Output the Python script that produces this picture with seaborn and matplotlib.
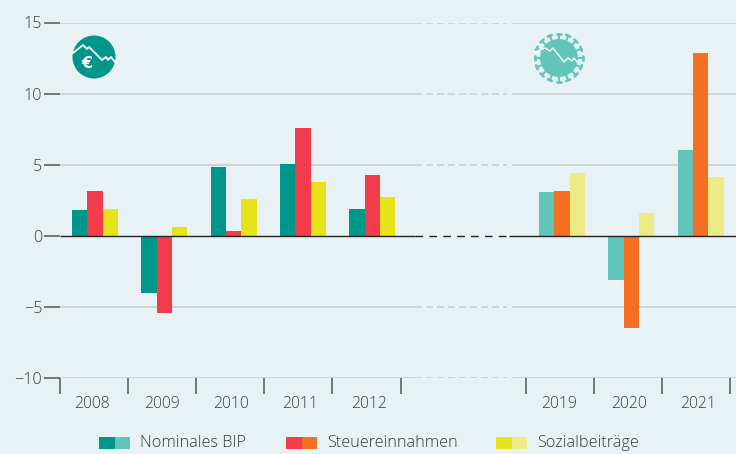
import numpy as np
import pandas as pd
import seaborn as sns
import matplotlib.pyplot as plt
from matplotlib.patches import Circle, Rectangle
from matplotlib.lines import Line2D
from matplotlib.transforms import Affine2D

BG = '#e8f1f3'
GRID = '#c6cecf'
TEXT = '#3c3c3c'
W, H = 736, 454

years_a = ['2008', '2009', '2010', '2011', '2012']
bip_a = [1.8, -4.0, 4.85, 5.05, 1.9]
steuer_a = [3.15, -5.4, 0.35, 7.6, 4.3]
sozial_a = [1.9, 0.65, 2.6, 3.8, 2.7]

years_b = ['2019', '2020', '2021']
bip_b = [3.05, -3.1, 6.0]
steuer_b = [3.15, -6.5, 12.85]
sozial_b = [4.4, 1.6, 4.1]

series = ['Nominales BIP', 'Steuereinnahmen', 'Sozialbeiträge']
colors_a = ['#00968a', '#f33c4b', '#e6e419']
colors_b = ['#62c5b9', '#f56f23', '#ebec85']
pos_a = [0, 1, 2, 3, 4]
pos_b = [6.74, 7.74, 8.74]


def long_table(pos, bip, steuer, sozial):
    frames = []
    for name, vals in zip(series, [bip, steuer, sozial]):
        frames.append(pd.DataFrame({'pos': pos, 'wert': vals, 'reihe': name}))
    return pd.concat(frames)


def px_to_x(px):
    # one group is 69.3 px wide, first group centred on 95 px
    return (px - 95) / 69.3


sns.set_theme(style='white')
plt.rcParams['font.family'] = ['Open Sans', 'DejaVu Sans']
plt.rcParams['font.weight'] = 'light'

fig = plt.figure(figsize=(W / 100, H / 100), dpi=100, facecolor=BG)
ax = fig.add_axes([59.5 / W, 1 - 378 / H, (W - 59.5) / W, (378 - 22.5) / H], facecolor='none')

# pixel coordinates for the icons and the legend
pix = Affine2D().scale(1, -1).translate(0, H)

sns.barplot(data=long_table(pos_a, bip_a, steuer_a, sozial_a), x='pos', y='wert', hue='reihe',
            palette=colors_a, native_scale=True, width=0.664, gap=0, saturation=1, legend=False, ax=ax,
            zorder=3, linewidth=0)
sns.barplot(data=long_table(pos_b, bip_b, steuer_b, sozial_b), x='pos', y='wert', hue='reihe',
            palette=colors_b, native_scale=True, width=0.664, gap=0, saturation=1, legend=False, ax=ax,
            zorder=3, linewidth=0)

x_left, x_right = px_to_x(59.5), px_to_x(736)
ax.set_xlim(x_left, x_right)
ax.set_ylim(-10, 15)
for s in ax.spines.values():
    s.set_visible(False)

# grid lines, dashed across the gap between the two periods
for v in [-10, -5, 5, 10, 15]:
    ax.hlines(v, x_left, px_to_x(415), color=GRID, lw=1.1, zorder=1)
    ax.hlines(v, px_to_x(415), px_to_x(507), color=GRID, lw=1.1, linestyles=(0, (4.6, 2.6)), zorder=1)
    ax.hlines(v, px_to_x(512), x_right, color=GRID, lw=1.1, zorder=1)
ax.hlines(0, x_left, px_to_x(415), color='#222222', lw=1, zorder=4)
ax.hlines(0, px_to_x(415), px_to_x(509), color='#222222', lw=1, linestyles=(0, (5.5, 4.5)), zorder=4)
ax.hlines(0, px_to_x(509), x_right, color='#222222', lw=1, zorder=4)

ax.set_xlabel('')
ax.set_ylabel('')
ax.set_yticks([-10, -5, 0, 5, 10, 15])
ax.set_yticklabels(['−10', '−5', '0', '5', '10', '15'])
ax.tick_params(axis='y', length=11.5, width=1.1, color='#555555', labelcolor=TEXT, labelsize=11.6, pad=1, left=True)

edge_px = [59.5, 127.7, 195.9, 264.1, 332.3, 400.5, 526.3, 594.3, 662.3, 730.3]
ax.set_xticks([px_to_x(p) for p in edge_px])
ax.set_xticklabels([''] * len(edge_px))
ax.set_xticks([p - 0.04 for p in pos_a + pos_b], minor=True)
ax.set_xticklabels(years_a + years_b, minor=True)
ax.tick_params(axis='x', which='major', length=11.5, width=1.1, color='#555555', bottom=True)
ax.tick_params(axis='x', which='minor', length=0, labelcolor=TEXT, labelsize=11.3, pad=13, bottom=True)

# euro icon
fig.add_artist(Circle((94, 57), 21.5, transform=pix, fc=colors_a[0], ec='none'))
fig.add_artist(Line2D([73, 83, 87, 89, 102, 106, 108, 111, 115], [53, 45, 49, 47, 60, 57, 60, 57, 62],
                      transform=pix, color='white', lw=1.3))
fig.text(86.5, 63.5, '€', transform=pix, color='white', fontsize=11.5, fontweight='bold', ha='center', va='center',
         family='DejaVu Sans')

# virus icon
fig.add_artist(Circle((559, 58), 19, transform=pix, fc=colors_b[0], ec='none'))
for a in np.arange(0, 360, 22.5):
    c, sn = np.cos(np.radians(a)), np.sin(np.radians(a))
    fig.add_artist(Line2D([559 + 18 * c, 559 + 24 * c], [58 + 18 * sn, 58 + 24 * sn], transform=pix,
                          color=colors_b[0], lw=1.5))
    fig.add_artist(Line2D([559 + 24 * c - 2.1 * sn, 559 + 24 * c + 2.1 * sn], [58 + 24 * sn + 2.1 * c, 58 + 24 * sn - 2.1 * c],
                          transform=pix, color=colors_b[0], lw=1.9))
fig.add_artist(Line2D([535, 545, 550, 553, 564, 568, 572, 574, 578], [52, 48, 51, 48, 62, 58, 61, 58, 63],
                      transform=pix, color='white', lw=1))

# legend
legend_x = [99, 286, 496]
for x0, name, ca, cb in zip(legend_x, series, colors_a, colors_b):
    fig.add_artist(Rectangle((x0, 437), 15.5, 12, transform=pix, fc=ca, ec='none'))
    fig.add_artist(Rectangle((x0 + 15.5, 437), 15.5, 12, transform=pix, fc=cb, ec='none'))
    fig.text(x0 + 41.5, 443, name, transform=pix, color=TEXT, fontsize=11.7, ha='left', va='center')

fig.savefig('out.png', dpi=100, facecolor=BG)
